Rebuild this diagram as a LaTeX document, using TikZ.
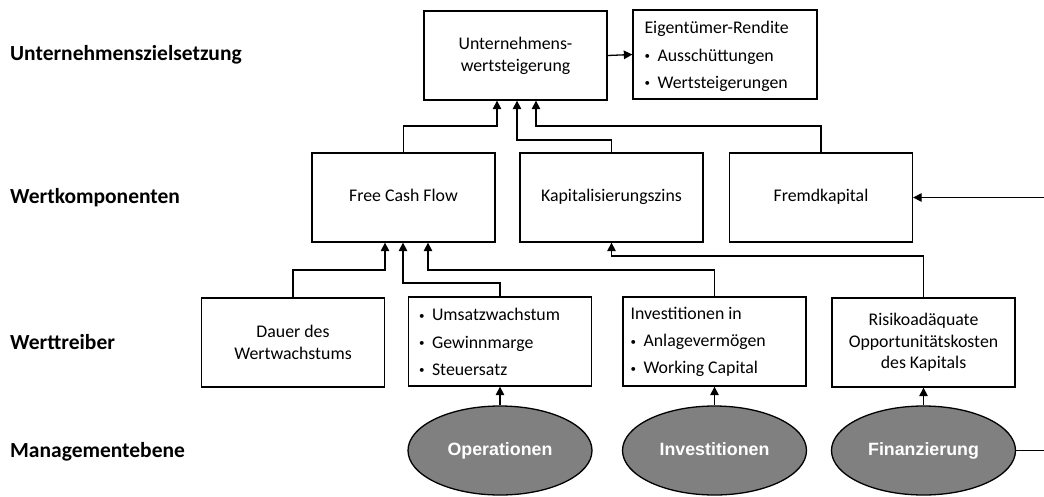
\documentclass[tikz,border=0pt]{standalone}
\usepackage{fontspec}
\setmainfont{Carlito}
\newfontfamily\arialfont{Liberation Sans}
\usetikzlibrary{arrows.meta,shapes.geometric}
\tikzset{
  box/.style={draw, line width=1.3pt, minimum width=183pt, minimum height=89pt, inner sep=0pt, align=center,
    font=\fontsize{17.8}{21.7}\selectfont},
  oneline/.style={text height=12.5pt, text depth=4.2pt},
  listtext/.style={anchor=west, inner sep=0pt, align=left, font=\fontsize{17.8}{27.2}\selectfont},
  ell/.style={ellipse, draw, line width=1.3pt, fill=black!50, minimum width=184pt, minimum height=89pt, inner sep=0pt,
    text=white, text height=13pt, text depth=3.5pt, font=\arialfont\bfseries\fontsize{17.8}{21}\selectfont},
  lvl/.style={anchor=west, inner sep=0pt, font=\bfseries\fontsize{21.5}{24}\selectfont},
  arr/.style={line width=1.3pt, -{Triangle[length=8.5pt,width=8.5pt]}},
}
\newcommand{\bul}{\makebox[13pt][l]{\raisebox{1.6pt}{\fontsize{11}{11}\selectfont\textbullet}}}
\begin{document}
\begin{tikzpicture}[x=1pt,y=-1pt]
\useasboundingbox (0,0) rectangle (1044,496);
% level labels
\node[lvl] (l1) at (10,55) {Unternehmenszielsetzung};
\node[lvl] (l2) at (10,198) {Wertkomponenten};
\node[lvl] (l3) at (10,342) {Werttreiber};
\node[lvl] (l4) at (10,452) {Managementebene};
% boxes
\node[box] (top) at (515.5,55.5) {Unternehmens-\\wertsteigerung};
\node[box, minimum width=184pt] (eig) at (725,54.5) {};
\node[listtext] (eigt) at ([xshift=12pt,yshift=-2pt]eig.west) {Eigentümer-Rendite\\\bul Ausschüttungen\\\bul Wertsteigerungen};
\node[box, oneline] (fcf) at (403.5,197.5) {Free Cash Flow};
\node[box, oneline] (kap) at (611.5,197.5) {Kapitalisierungszins};
\node[box, oneline] (frk) at (821,197.5) {Fremdkapital};
\node[box] (dau) at (293,342.5) {Dauer des\\Wertwachstums};
\node[box] (ums) at (500,341.5) {};
\node[listtext] (umst) at ([xshift=11pt,yshift=-0.5pt]ums.west) {\bul Umsatzwachstum\\\bul Gewinnmarge\\\bul Steuersatz};
\node[box] (inv) at (714.5,341.5) {};
\node[listtext] (invt) at ([xshift=8pt,yshift=-0.5pt]inv.west) {Investitionen in\\\bul Anlagevermögen\\\bul Working Capital};
\node[box] (ris) at (923.5,342.5) {Risikoadäquate\\Opportunitätskosten\\des Kapitals};
% ellipses
\node[ell] (op) at (500,450.5) {Operationen};
\node[ell] (in) at (714.5,450.5) {Investitionen};
\node[ell] (fi) at (923.5,450.5) {Finanzierung};
% helper x-coordinates
\coordinate (xa) at (497,0);
\coordinate (xb) at (517,0);
\coordinate (xc) at (536,0);
\coordinate (xd) at (385,0);
\coordinate (xe) at (403,0);
\coordinate (xf) at (428,0);
\coordinate (rc) at (1047,0);
% connectors
\draw[arr] (top.east) -- (eig.west);
\draw[arr] (fcf.north) -- (fcf.north |- 0,126) -- (xa |- 0,126) -- (top.south -| xa);
\draw[arr] (kap.north) -- (kap.north |- 0,140) -- (xb |- 0,140) -- (top.south -| xb);
\draw[arr] (frk.north) -- (frk.north |- 0,126) -- (xc |- 0,126) -- (top.south -| xc);
\draw[arr] (dau.north) -- (dau.north |- 0,270) -- (xd |- 0,270) -- (fcf.south -| xd);
\draw[arr] (ums.north) -- (ums.north |- 0,283) -- (xe |- 0,283) -- (fcf.south -| xe);
\draw[arr] (inv.north) -- (inv.north |- 0,270) -- (xf |- 0,270) -- (fcf.south -| xf);
\draw[arr] (ris.north) -- (ris.north |- 0,256) -- (kap.south |- 0,256) -- (kap.south);
\draw[arr] (op.north) -- (ums.south);
\draw[arr] (in.north) -- (inv.south);
\draw[arr] (fi.north) -- (ris.south);
\draw[arr] (fi.east) -- (rc |- fi.east) -- (rc |- frk.east) -- (frk.east);
\end{tikzpicture}
\end{document}
